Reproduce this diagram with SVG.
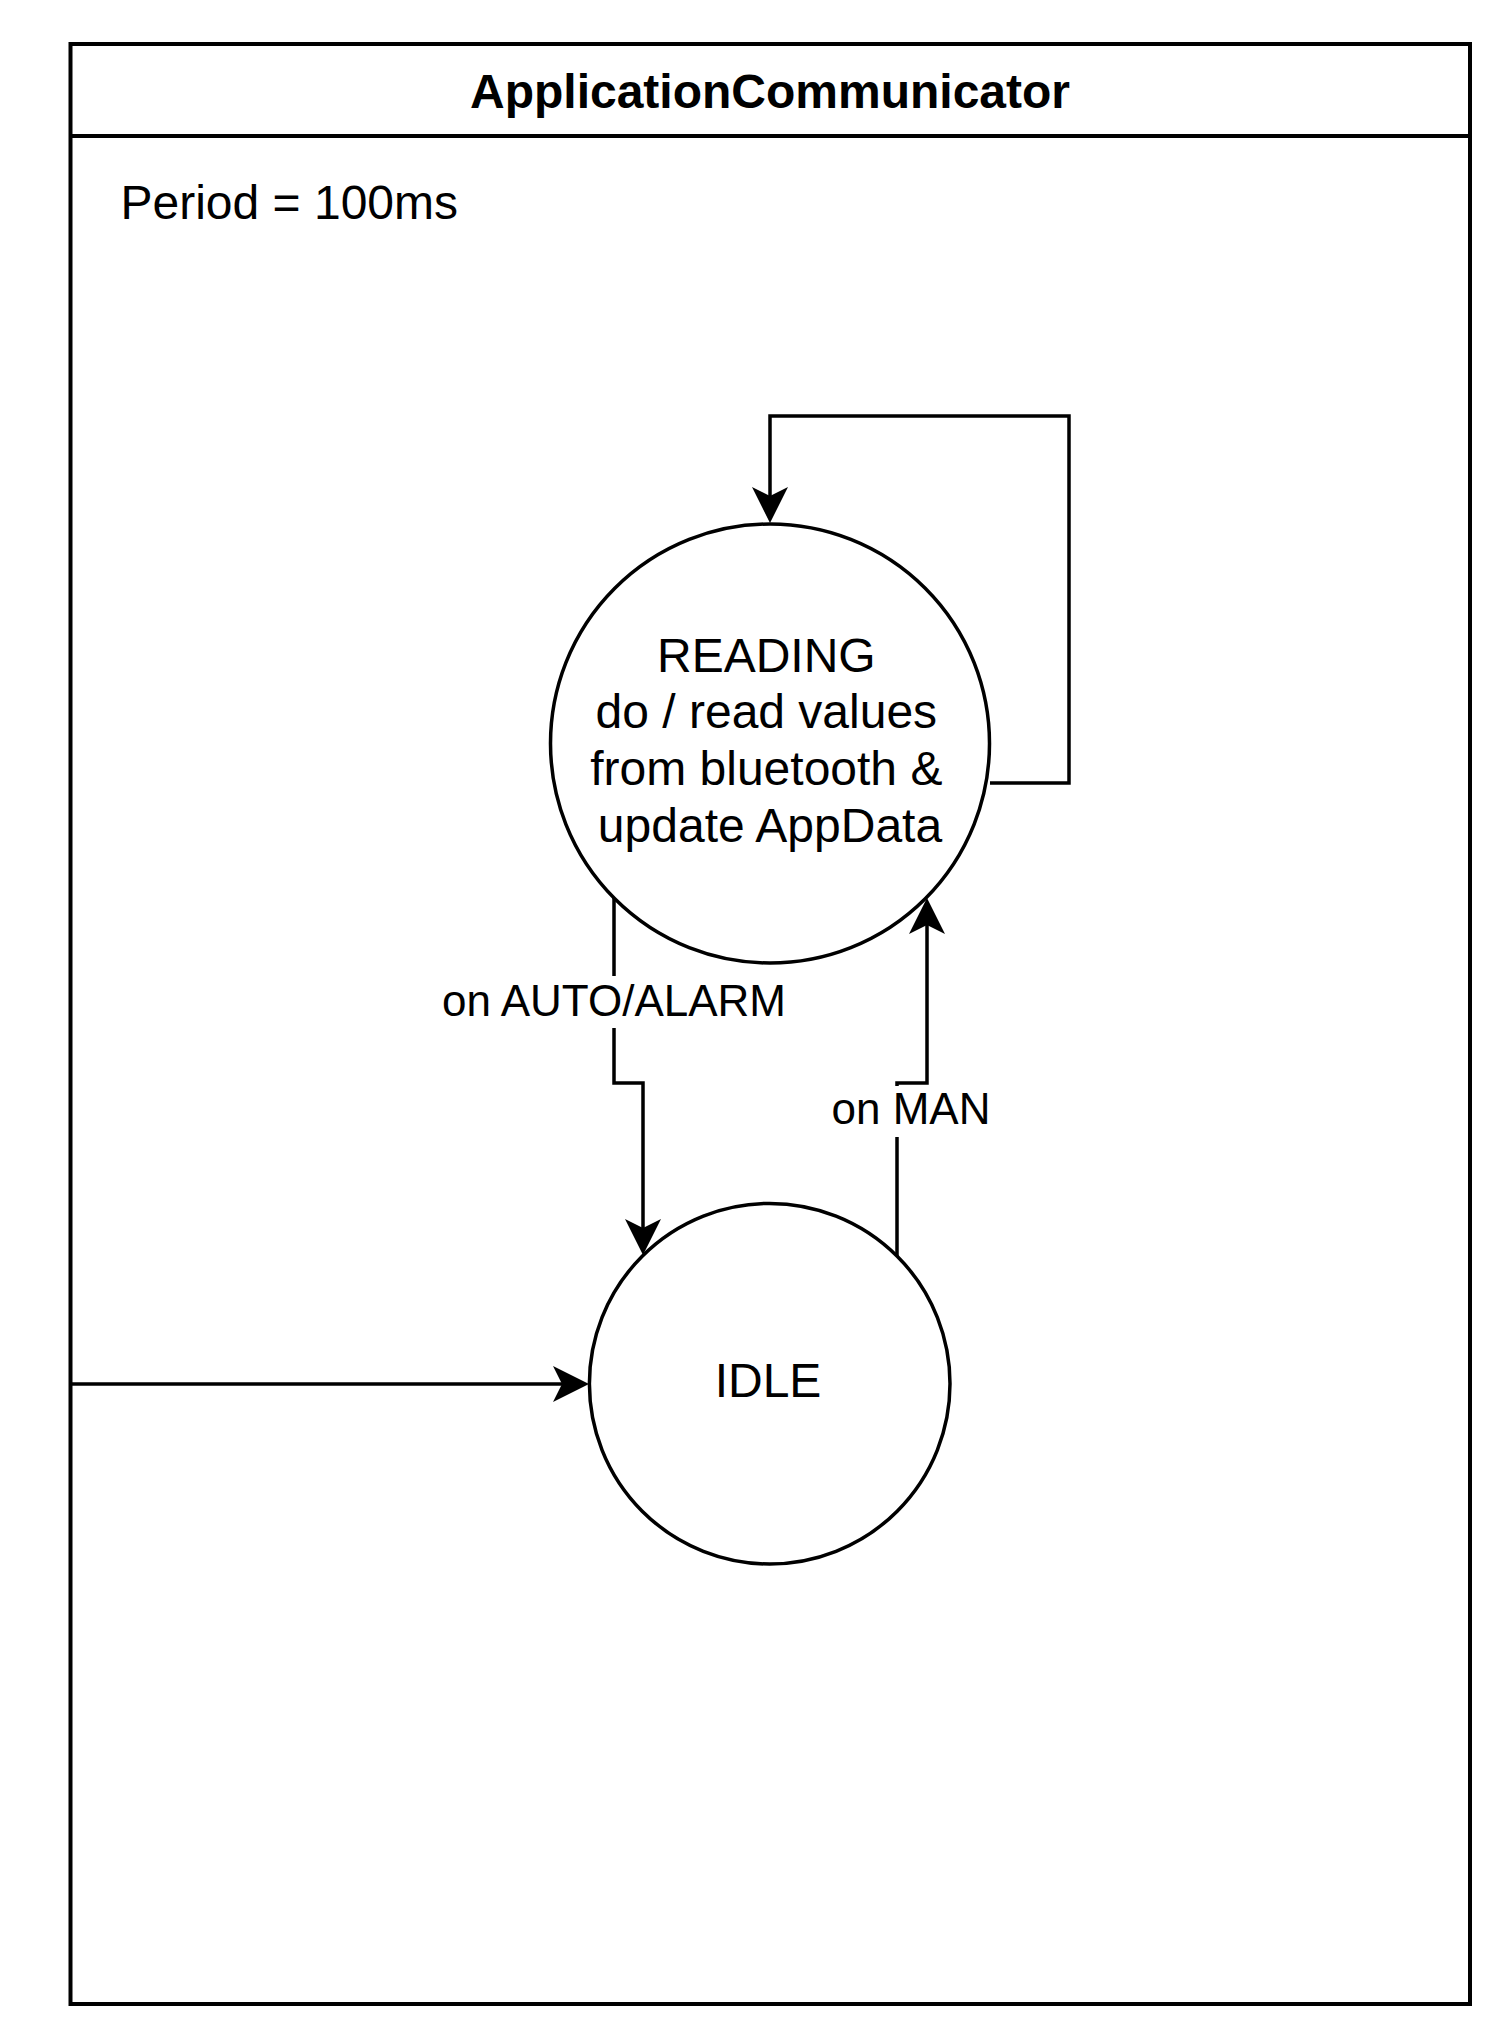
<svg xmlns="http://www.w3.org/2000/svg" width="1512" height="2044" viewBox="0 0 1512 2044">
<style>
  .txt { font-family: "Liberation Sans", Arial, sans-serif; fill: #000; }
  .state { fill: #fff; stroke: #000; stroke-width: 3.5; }
  .edge { fill: none; stroke: #000; stroke-width: 3.5; }
  .lbl { font-family: "Liberation Sans", Arial, sans-serif; font-size: 44px; fill: #000; text-anchor: middle; }
  .lblbg { fill: #fff; }
</style>
<defs>
  <marker id="arrow" markerUnits="userSpaceOnUse" markerWidth="40" markerHeight="40" refX="27" refY="18" orient="auto" overflow="visible">
    <path d="M0,0 L36,18 L0,36 L9,18 Z" fill="#000"/>
  </marker>
</defs>
<rect width="1512" height="2044" fill="#fff"/>
<g id="container">
  <rect x="70.5" y="44" width="1399.5" height="1960" fill="#fff" stroke="#000" stroke-width="4"/>
  <line x1="70.5" y1="136" x2="1470" y2="136" stroke="#000" stroke-width="4"/>
  <text class="txt" x="770" y="108" font-size="48" font-weight="bold" text-anchor="middle">ApplicationCommunicator</text>
  <text class="txt" x="120.5" y="219" font-size="48">Period = 100ms</text>
</g>
<g id="connectors">
  <path class="edge" d="M990,783 L1069,783 L1069,416 L770,416 L770,514" stroke-width="4" marker-end="url(#arrow)"/>
  <path class="edge" d="M614,898 L614,1083 L643,1083 L643,1246" marker-end="url(#arrow)"/>
  <path class="edge" d="M897,1256 L897,1083 L927,1083 L927,907" marker-end="url(#arrow)"/>
  <path class="edge" d="M70,1384 L580,1384" marker-end="url(#arrow)"/>
  <rect class="lblbg" x="440" y="976" width="350" height="52"/>
  <text class="lbl" x="614" y="1016">on AUTO/ALARM</text>
  <rect class="lblbg" x="831" y="1086" width="160" height="51"/>
  <text class="lbl" x="911" y="1124">on MAN</text>
</g>
<g id="reading">
  <circle class="state" cx="770" cy="743.5" r="219.5"/>
  <text class="txt" font-size="48" text-anchor="middle">
    <tspan x="773" y="672">READING</tspan>
    <tspan x="773" y="728">do / read values</tspan>
    <tspan x="773" y="785">from bluetooth &amp;</tspan>
    <tspan x="770" y="842">update AppData</tspan>
  </text>
</g>
<g id="idle">
  <circle class="state" cx="769.7" cy="1383.7" r="180.3"/>
  <text class="txt" x="768" y="1397" font-size="48" text-anchor="middle">IDLE</text>
</g>
</svg>
